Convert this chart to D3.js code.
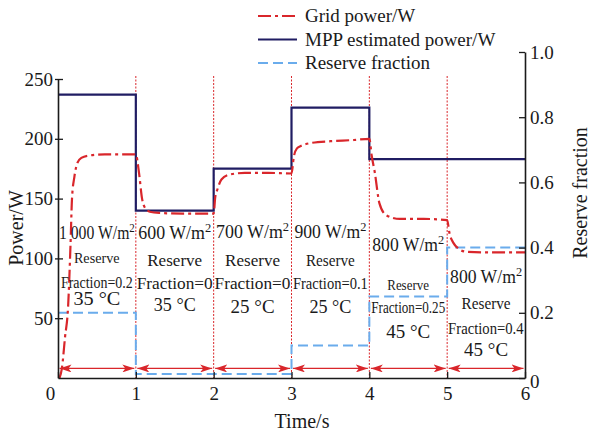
<!DOCTYPE html>
<html><head><meta charset="utf-8">
<script src="https://cdn.jsdelivr.net/npm/d3@7"></script>
<style>body{margin:0;background:#fff}svg{display:block}svg text{font-family:"Liberation Serif","Times New Roman",serif}</style>
</head><body>
<svg id="c" width="594" height="434"></svg>
<script>
// ---- data ----
const gridTime  = [0.02,0.05,0.09,0.13,0.16,0.18,0.21,0.25,0.3,0.4,0.6,1.0,
                   1.04,1.08,1.12,1.18,1.3,1.6,2.0,
                   2.02,2.05,2.1,2.2,2.4,2.7,3.0,
                   3.03,3.07,3.12,3.25,3.5,3.8,4.0,
                   4.03,4.07,4.13,4.22,4.39,4.7,5.0,
                   5.03,5.08,5.13,5.25,5.5,6.0];
const gridPower = [0,8,34,60,110,150,168,180,184,186,187,187,
                   172,150,142,139,138,137.5,137.5,
                   151,158,166,170,171.5,171.5,171,
                   185,192,194,196.5,198,199,200,
                   186,172,146,136,133,133,132,
                   121,113,109,105.5,105,105];
const mppTime  = [0,1,2,3,4,6];
const mppPower = [237,140,175,226,183,183];
const reserveTime = [0,1,2,3,4,5,6];
const reserveFrac = [0.2,0.012,0.012,0.1,0.25,0.4,0.4];
const xTicks = [0,1,2,3,4,5,6];
const yLeftTicks = [50,100,150,200,250];
const yRightTicks = [0,0.2,0.4,0.6,0.8,1.0];
const stageBounds = [1,2,3,4,5];
const irradiance = ["1 000","600","700","900","800","800"];
const reserveLabel = ["0.2","0","0","0.1","0.25","0.4"];
const temperature = ["35","35","25","25","45","45"];
const legendNames = ["Grid power/W","MPP estimated power/W","Reserve fraction"];

// ---- layout ----
const FONT = '"Liberation Serif","Times New Roman",serif';
const RED = "#d9262b", NAVY = "#201d63", BLUE = "#6aacec", AX = "#1a1a1a";
const svg = d3.select("#c").style("font-family", FONT);
const x = d3.scaleLinear().domain([0,6]).range([58,525]);
const yL = d3.scaleLinear().domain([0,250]).range([378,79]);
const yR = d3.scaleLinear().domain([0,1]).range([378,52]);

// stage dotted lines
svg.append("g").selectAll("line").data(stageBounds).join("line")
  .attr("x1", d=>x(d)).attr("x2", d=>x(d)).attr("y1", 76).attr("y2", 378)
  .attr("stroke", RED).attr("stroke-width", 1).attr("stroke-dasharray","2,1.5");

// arrows
const defs = svg.append("defs");
function mk(id, d){
  defs.append("marker").attr("id", id).attr("viewBox","0 0 12 8")
    .attr("refX", d==="e"?12:0).attr("refY",4).attr("markerWidth",12).attr("markerHeight",8)
    .attr("markerUnits","userSpaceOnUse").attr("orient","auto")
    .append("path").attr("d", d==="e" ? "M0,0 L12,4 L0,8 L3,4 Z" : "M12,0 L0,4 L12,8 L9,4 Z")
    .attr("fill", RED);
}
mk("ae","e"); mk("as","s");
svg.append("g").selectAll("line").data(d3.range(6)).join("line")
  .attr("x1", d=>x(d)+1.5).attr("x2", d=>x(d+1)-1.5)
  .attr("y1", yL(8)).attr("y2", yL(8))
  .attr("stroke", RED).attr("stroke-width", 1.3)
  .attr("marker-start","url(#as)").attr("marker-end","url(#ae)");

// reserve fraction
const resPts = reserveTime.map((t,i)=>[t, reserveFrac[i]]);
svg.append("path").datum(resPts)
  .attr("d", d3.line().x(d=>x(d[0])).y(d=>yR(d[1])).curve(d3.curveStepAfter))
  .attr("fill","none").attr("stroke", BLUE).attr("stroke-width", 2)
  .attr("stroke-dasharray","10,5");

// MPP
const mppPts = mppTime.map((t,i)=>[t, mppPower[i]]);
svg.append("path").datum(mppPts)
  .attr("d", d3.line().x(d=>x(d[0])).y(d=>yL(d[1])).curve(d3.curveStepAfter))
  .attr("fill","none").attr("stroke", NAVY).attr("stroke-width", 2.2);

// grid power
const gridPts = gridTime.map((t,i)=>[t, gridPower[i]]);
svg.append("path").datum(gridPts)
  .attr("d", d3.line().x(d=>x(d[0])).y(d=>yL(d[1])).curve(d3.curveMonotoneX))
  .attr("fill","none").attr("stroke", RED).attr("stroke-width", 2.2)
  .attr("stroke-dasharray","13,4,3,4");

// axes
const gL = svg.append("g").attr("transform","translate(58,0)")
  .call(d3.axisLeft(yL).tickValues(yLeftTicks).tickSizeInner(-5).tickSizeOuter(0).tickPadding(5));
gL.selectAll(".tick line").attr("x1",-3);
const gR = svg.append("g").attr("transform","translate(525,0)")
  .call(d3.axisRight(yR).tickValues(yRightTicks).tickSizeInner(-6).tickSizeOuter(0).tickPadding(5)
    .tickFormat(d=> d===0 ? "0" : d.toFixed(1)));
const gB = svg.append("g").attr("transform","translate(0,378)")
  .call(d3.axisBottom(x).tickValues(xTicks).tickSizeInner(-6).tickSizeOuter(0).tickPadding(9)
    .tickFormat(d3.format("d")));
gB.selectAll(".tick text").filter(d=>d===0).attr("x",-8);
gR.selectAll(".tick").filter(d=>d===0).select("text").attr("dy","0.5em");
[gL,gR,gB].forEach(g=>{
  g.attr("font-family", FONT).attr("font-size", 19);
  g.selectAll("text").attr("fill", AX).style("font-family", FONT);
  g.selectAll(".tick line").attr("stroke", AX).attr("stroke-width",1.3);
  g.select(".domain").attr("stroke", AX).attr("stroke-width",1.6);
});

// axis titles
svg.append("text").attr("transform","translate(23,228) rotate(-90)")
  .attr("text-anchor","middle").attr("font-size",20).attr("fill",AX).text("Power/W");
svg.append("text").attr("transform","translate(587,193) rotate(-90)")
  .attr("text-anchor","middle").attr("font-size",20).attr("fill",AX).text("Reserve fraction");
svg.append("text").attr("x",302).attr("y",428)
  .attr("text-anchor","middle").attr("font-size",20).attr("fill",AX).text("Time/s");

// legend
const legStyles = [
  {c:RED, w:2.2, da:"13,4,3,4"},
  {c:NAVY, w:2.2, da:null},
  {c:BLUE, w:2, da:"10,5"}];
const lg = svg.append("g");
legendNames.forEach((n,i)=>{
  const yy = 16 + i*23.5;
  lg.append("line").attr("x1",258).attr("x2",297).attr("y1",yy).attr("y2",yy)
    .attr("stroke",legStyles[i].c).attr("stroke-width",legStyles[i].w)
    .attr("stroke-dasharray",legStyles[i].da);
  lg.append("text").attr("x",305).attr("y",yy+6).attr("font-size",19).attr("fill",AX).text(n);
});

// stage annotations
const rows = [ // center y of each of 4 lines, widths
  {y:[233,258,282,299], w:[76,46,72,47], s:[18,15,17,18]},
  {y:[233,260,283,305], w:[73,55,76,42], s:[18,17,17,18]},
  {y:[232,260,283,307], w:[73,55,76,44], s:[18,17,17,18]},
  {y:[232,260,283,307], w:[72,49,75,42], s:[18,17,17,18]},
  {y:[245,285,308,332], w:[72,42,74,44], s:[18,15,16,18]},
  {y:[277,304,328,350], w:[72,49,76,44], s:[18,16,17,18]}];
const ann = svg.append("g").attr("fill", AX);
function fit(cx, cy, w, size, build){
  const t = ann.append("text").attr("font-size", size).attr("text-anchor","start");
  build(t);
  const bw = t.node().getBBox().width;
  const s = w / bw;
  t.attr("transform", `translate(${cx - w/2},${cy + size*0.33}) scale(${s},1)`);
}
irradiance.forEach((irr,i)=>{
  const cx = x(i+0.5), r = rows[i];
  fit(cx, r.y[0], r.w[0], r.s[0], t=>{
    t.append("tspan").text(irr + " W/m");
    t.append("tspan").attr("font-size", r.s[0]*0.7).attr("dy", -r.s[0]*0.4).text("2");
  });
  fit(cx, r.y[1], r.w[1], r.s[1], t=>t.text("Reserve"));
  fit(cx, r.y[2], r.w[2], r.s[2], t=>t.text("Fraction=" + reserveLabel[i]));
  fit(cx, r.y[3], r.w[3], r.s[3], t=>t.text(temperature[i] + " \u00B0C"));
});
</script>
</body></html>
